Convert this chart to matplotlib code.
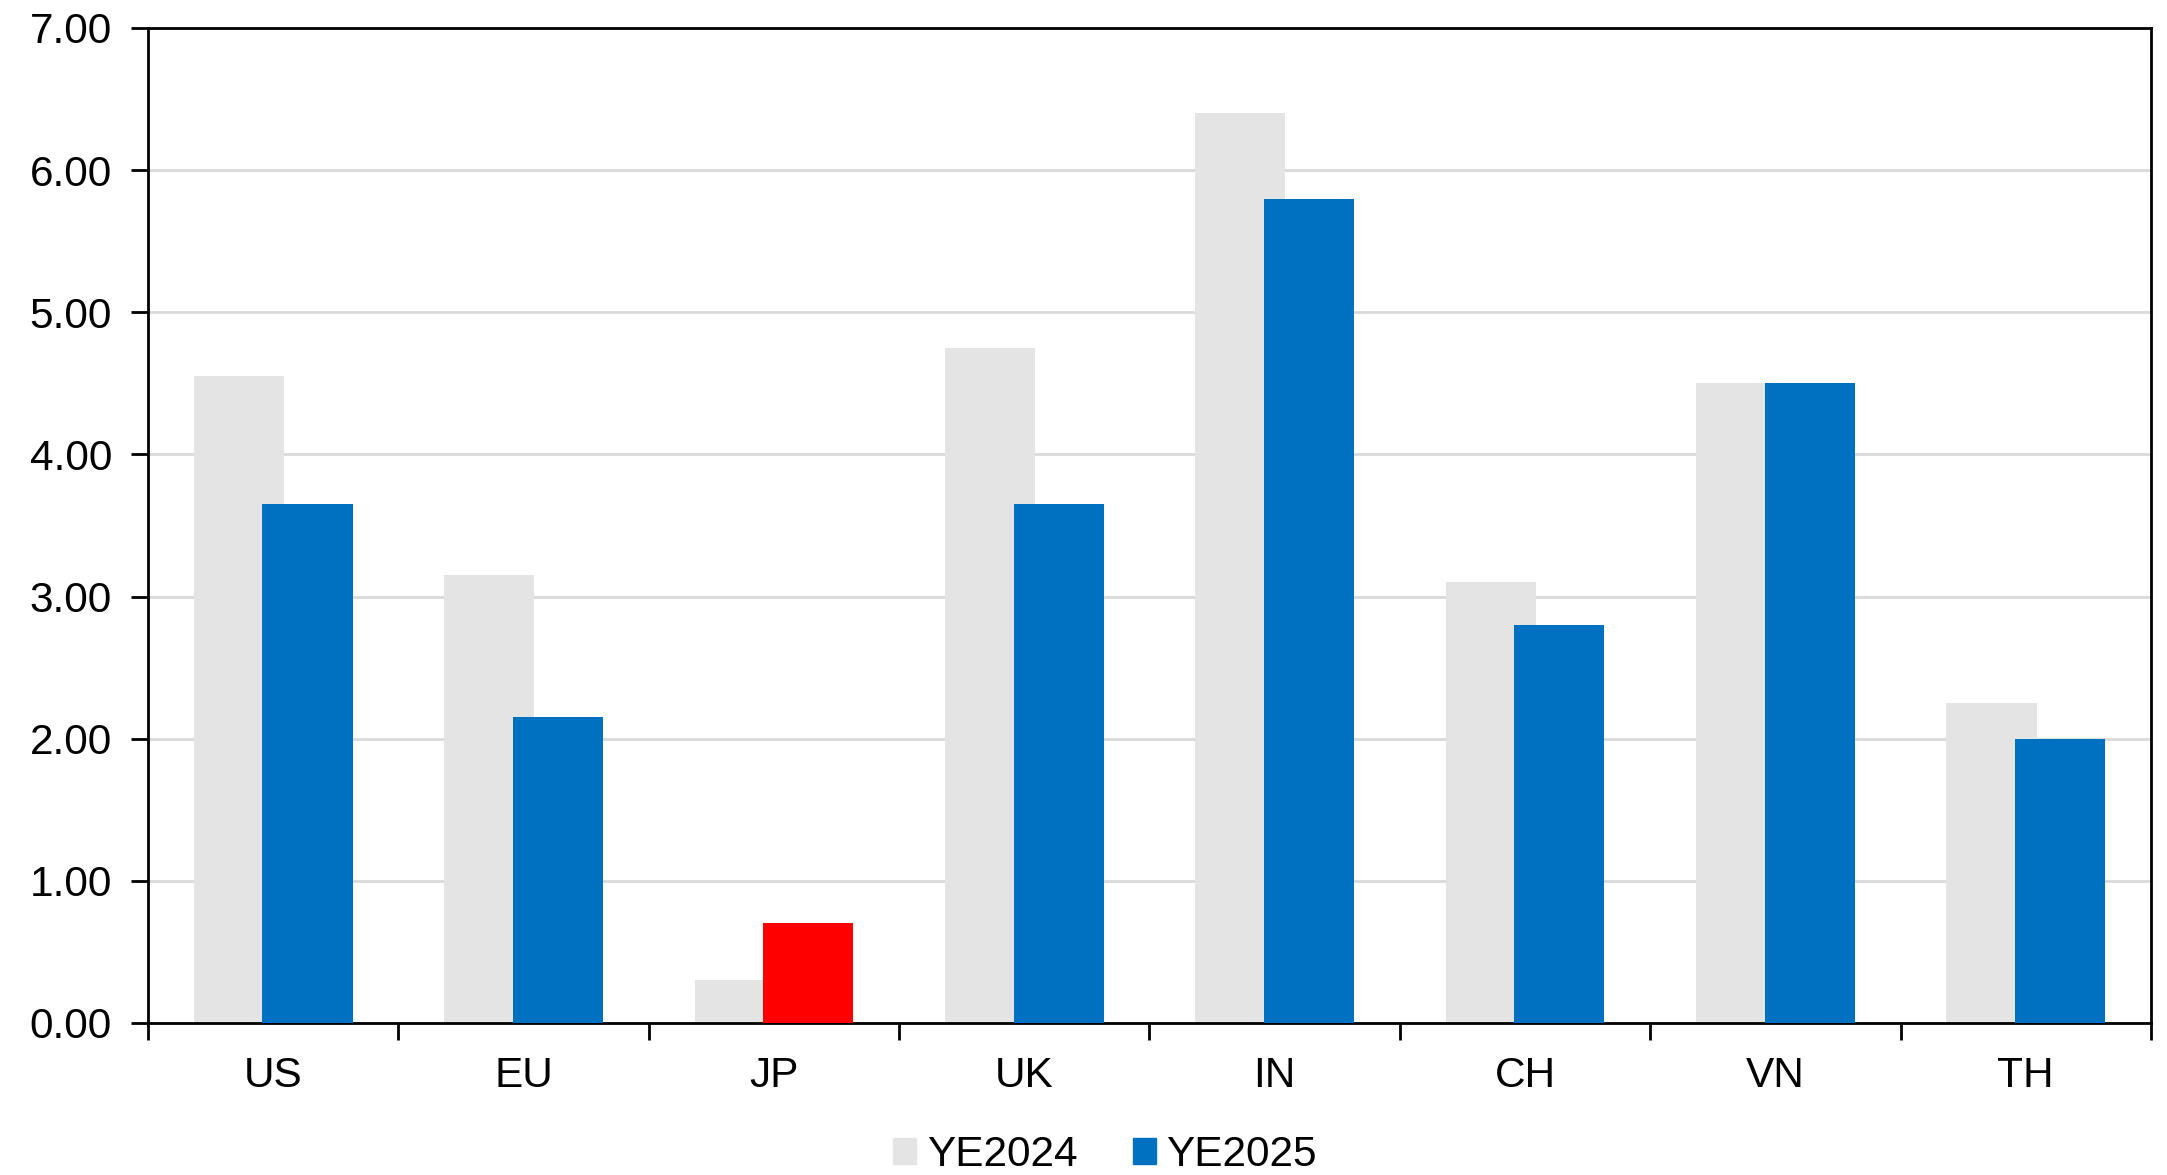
import matplotlib.pyplot as plt
from matplotlib.patches import Patch
import numpy as np

plt.rcParams['font.family'] = ['Liberation Sans', 'DejaVu Sans']

regions = ['US', 'EU', 'JP', 'UK', 'IN', 'CH', 'VN', 'TH']
ye2024 = [4.55, 3.15, 0.30, 4.75, 6.40, 3.10, 4.50, 2.25]
ye2025 = [3.65, 2.15, 0.70, 3.65, 5.80, 2.80, 4.50, 2.00]

grey = '#E4E4E4'
blue = '#0070C0'
red = '#FF0000'

fig = plt.figure(figsize=(21.67, 11.75), dpi=100)
ax = fig.add_axes([0.0683, 0.1294, 0.9243, 0.8468])

x = np.arange(len(regions))
width = 0.36
offset = 0.137

ax.bar(x - offset, ye2024, width, color=grey, zorder=2)
# JP is highlighted in red
colors_2025 = [red if r == 'JP' else blue for r in regions]
ax.bar(x + offset, ye2025, width, color=colors_2025, zorder=3)

ax.set_xlim(-0.5, len(regions) - 0.5)
ax.set_ylim(0, 7)
ax.set_yticks(np.arange(0, 8, 1))
ax.set_yticklabels([f'{v:.2f}' for v in np.arange(0, 8, 1)])
ax.yaxis.grid(True, color='#D9D9D9', linewidth=2, zorder=0)
ax.set_axisbelow(True)

# category labels centred, ticks on the slot boundaries
ax.set_xticks(np.arange(-0.5, len(regions), 1))
ax.set_xticklabels([])
ax.set_xticks(x, minor=True)
ax.set_xticklabels(regions, minor=True)
ax.tick_params(axis='x', which='minor', length=0, pad=24, labelsize=30.5)
ax.tick_params(axis='x', which='major', length=12, width=2, direction='out')
ax.tick_params(axis='y', length=12, width=2, direction='out', pad=14, labelsize=30.5)

for s in ax.spines.values():
    s.set_linewidth(2)
    s.set_color('black')

handles = [Patch(color=grey, label='YE2024'), Patch(color=blue, label='YE2025')]
fig.legend(handles=handles, loc='center', bbox_to_anchor=(0.51, 0.017), ncol=2,
           frameon=False, fontsize=30.5, handlelength=0.55, handleheight=0.55,
           handletextpad=0.25, columnspacing=1.3)

fig.savefig('out.png', dpi=100)
